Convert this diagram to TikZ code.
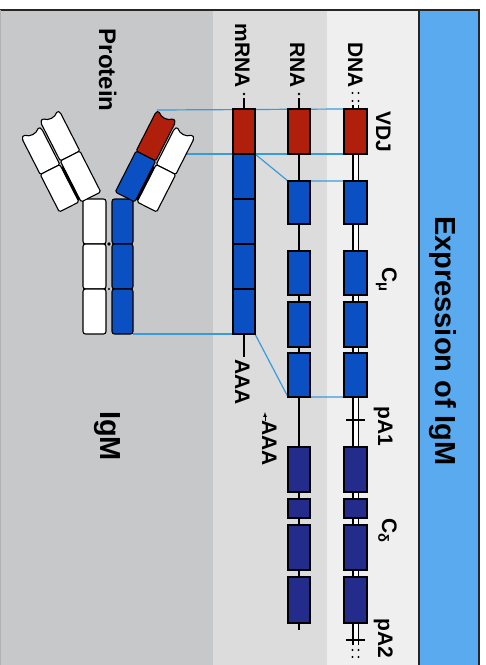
\documentclass[tikz,border=0pt]{standalone}
\usepackage{fontspec}
\setmainfont{Liberation Sans}
\usetikzlibrary{backgrounds}

\definecolor{vdjred}{HTML}{B01E0C}
\definecolor{cmublue}{HTML}{0A50C2}
\definecolor{cdelta}{HTML}{232C8A}
\definecolor{linkblue}{HTML}{3A9BDC}
\definecolor{titleblue}{HTML}{5AAAF0}
\definecolor{panelA}{HTML}{C7C8CA}
\definecolor{panelB}{HTML}{DCDCDC}
\definecolor{panelC}{HTML}{EFEFEF}

% one arm of the antibody, drawn along its own axis
\newcommand{\armdomains}[2]{%
  \draw[dom, fill=#1] (0,3) -- (2,0) .. controls (7,5) and (14,5) .. (19,0) -- (22,3) -- (22,46) -- (0,46) -- cycle;
  \draw[dom, fill=#2] (0,46) rectangle (22,92);
  \draw[dom, fill=white] (24,9) -- (26,6) .. controls (31,11) and (38,11) .. (43,6) -- (46,9) -- (46,49) -- (24,49) -- cycle;
  \draw[dom, fill=white] (24,49) rectangle (46,91);
  \draw[line width=2.2pt] (23,52) -- (23,89);
}

\begin{document}
\begin{tikzpicture}[x=1pt,y=-1pt,
    gene/.style={draw, line width=1.2pt, inner sep=0pt, outer sep=0pt, minimum width=22, minimum height=45},
    dnagene/.style={gene, minimum width=23},
    stem/.style={draw, line width=1.1pt, rounded corners=2.5pt, inner sep=0pt, outer sep=0pt, minimum height=45},
    dom/.style={draw=black, line width=1.1pt, rounded corners=1.5pt},
    link/.style={linkblue, line width=1.2pt},
    lbl/.style={rotate=-90, inner sep=0pt, font=\bfseries\fontsize{21}{21}\selectfont},
    biglbl/.style={rotate=-90, inner sep=0pt, font=\bfseries\fontsize{29}{29}\selectfont}]
  \useasboundingbox (0,0) rectangle (486,665);

  %\node[draw,options] (nodeName) at (x,y) {text};
  % DNA
  \node[dnagene, fill=vdjred] (dnavdj) at (355.5,131.5) {};
  \node[gene, fill=vdjred] (rnavdj) at (299,131.5) {};
  \node[gene, fill=vdjred] (mrvdj) at (244,131.5) {};
  \foreach \yc/\ht/\k in {202.5/43/1, 273/44/2, 324.5/45/3, 375/44/4} {
    \node[dnagene, fill=cmublue, minimum height=\ht] (dnamu\k) at (355.5,\yc) {};
    \node[gene, fill=cmublue, minimum height=\ht] (rnamu\k) at (299,\yc) {};
  }
  \foreach \yc/\ht/\k in {469.5/45/1, 508.5/19/2, 547.5/45/3, 600/46/4} {
    \node[dnagene, fill=cdelta, minimum height=\ht] (dnad\k) at (355.5,\yc) {};
    \node[gene, fill=cdelta, minimum height=\ht] (rnad\k) at (299,\yc) {};
  }
  % mRNA
  \foreach \yc/\k in {176.5/1, 221.5/2, 266.5/3, 311.5/4}
    \node[gene, fill=cmublue] (mrmu\k) at (244,\yc) {};

  % labels
  \node[lbl, anchor=base east] (dnalbl) at (348,88) {DNA};
  \node[lbl, anchor=base east] (rnalbl) at (290,88) {RNA};
  \node[lbl, anchor=base east] (mrnalbl) at (235,88) {mRNA};
  \node[lbl, anchor=base] (vdjlbl) at (376,131.5) {VDJ};
  \node[lbl, anchor=base] (cmulbl) at (382,280) {C\textsubscript{μ}};
  \node[lbl, anchor=base] (pAonelbl) at (378,426) {pA1};
  \node[lbl, anchor=base] (cdlbl) at (382,531) {C\textsubscript{δ}};
  \node[lbl, anchor=base] (pAtwolbl) at (378,638) {pA2};
  \node[lbl, anchor=base] (mraaa) at (235,382) {AAA};
  \node[lbl, anchor=base] (rnaaaa) at (262,443) {AAA};
  \draw[->,>=latex, line width=0.7pt] (265,421) -- (265,412);
  \node[lbl, anchor=base, font=\bfseries\fontsize{24}{24}\selectfont] (protlbl) at (99,70) {Protein};
  \node[biglbl, anchor=base] (igmlbl) at (100,436) {IgM};
  \node[biglbl, anchor=base] (title) at (435,341) {Expression of IgM};

  % protein: constant part
  \foreach \yc/\k in {221.5/1, 266.5/2, 311.5/3} {
    \node[stem, fill=white, minimum width=23] (wh\k) at (94.5,\yc) {};
    \node[stem, fill=cmublue, minimum width=21] (bh\k) at (122.5,\yc) {};
  }
  \fill (109,244) circle (1.8);
  \fill (109,289) circle (1.2);
  % protein: arms
  \begin{scope}[shift={(157,110)}, rotate=-27]
    \armdomains{vdjred}{cmublue}
    \coordinate (vhtip) at (0,0);
  \end{scope}
  \begin{scope}[shift={(59,110)}, xscale=-1, rotate=-27]
    \armdomains{white}{white}
  \end{scope}
  \coordinate (vjoin) at (178,154);

  \begin{scope}[on background layer]
    \fill[white] (0,0) rectangle (486,665);
    \fill[panelA] (0,10) rectangle (213,665);
    \fill[panelB] (213,10) rectangle (327,665);
    \fill[panelC] (327,10) rectangle (419,665);
    \fill[titleblue] (419,10) rectangle (479,665);
    \draw[black!85, line width=1.5pt] (0,10) -- (479,10) -- (479,665);
    \draw[black!85, line width=1.2pt] (419,10) -- (419,665);
    \draw[black!30, line width=0.8pt] (0.4,10) -- (0.4,665);
    % gene lines
    \draw[line width=1.2pt, double=white, double distance=4pt] (355.5,105) -- (355.5,645);
    \foreach \xd in {352.5,358.5}
      \foreach \yd in {93,101,650,657}
        \fill (\xd,\yd) circle (1.2);
    \draw[line width=1.3pt] (346,420) -- (365,420);
    \draw[line width=1.3pt] (346,640) -- (365,640);
    \draw[line width=1.3pt] (299,98) -- (299,630);
    \fill (299,94) circle (1.4);
    \draw[line width=1.3pt] (244,98) -- (mrvdj.north);
    \draw[line width=1.3pt] (mrmu4.south) -- (244,357);
    \fill (244,94) circle (1.4);
    % links
    \draw[link] (dnavdj.north west) -- (vhtip);
    \draw[link] (dnavdj.south west) -- (vjoin);
    \draw[link] (mrvdj.south east) -- (rnamu1.north west) -- (dnamu1.north west);
    \draw[link] (mrmu4.south east) -- (rnamu4.south west) -- (dnamu4.south west);
    \draw[link] (mrmu4.south west) -- (bh3.south east);
  \end{scope}
\end{tikzpicture}
\end{document}
